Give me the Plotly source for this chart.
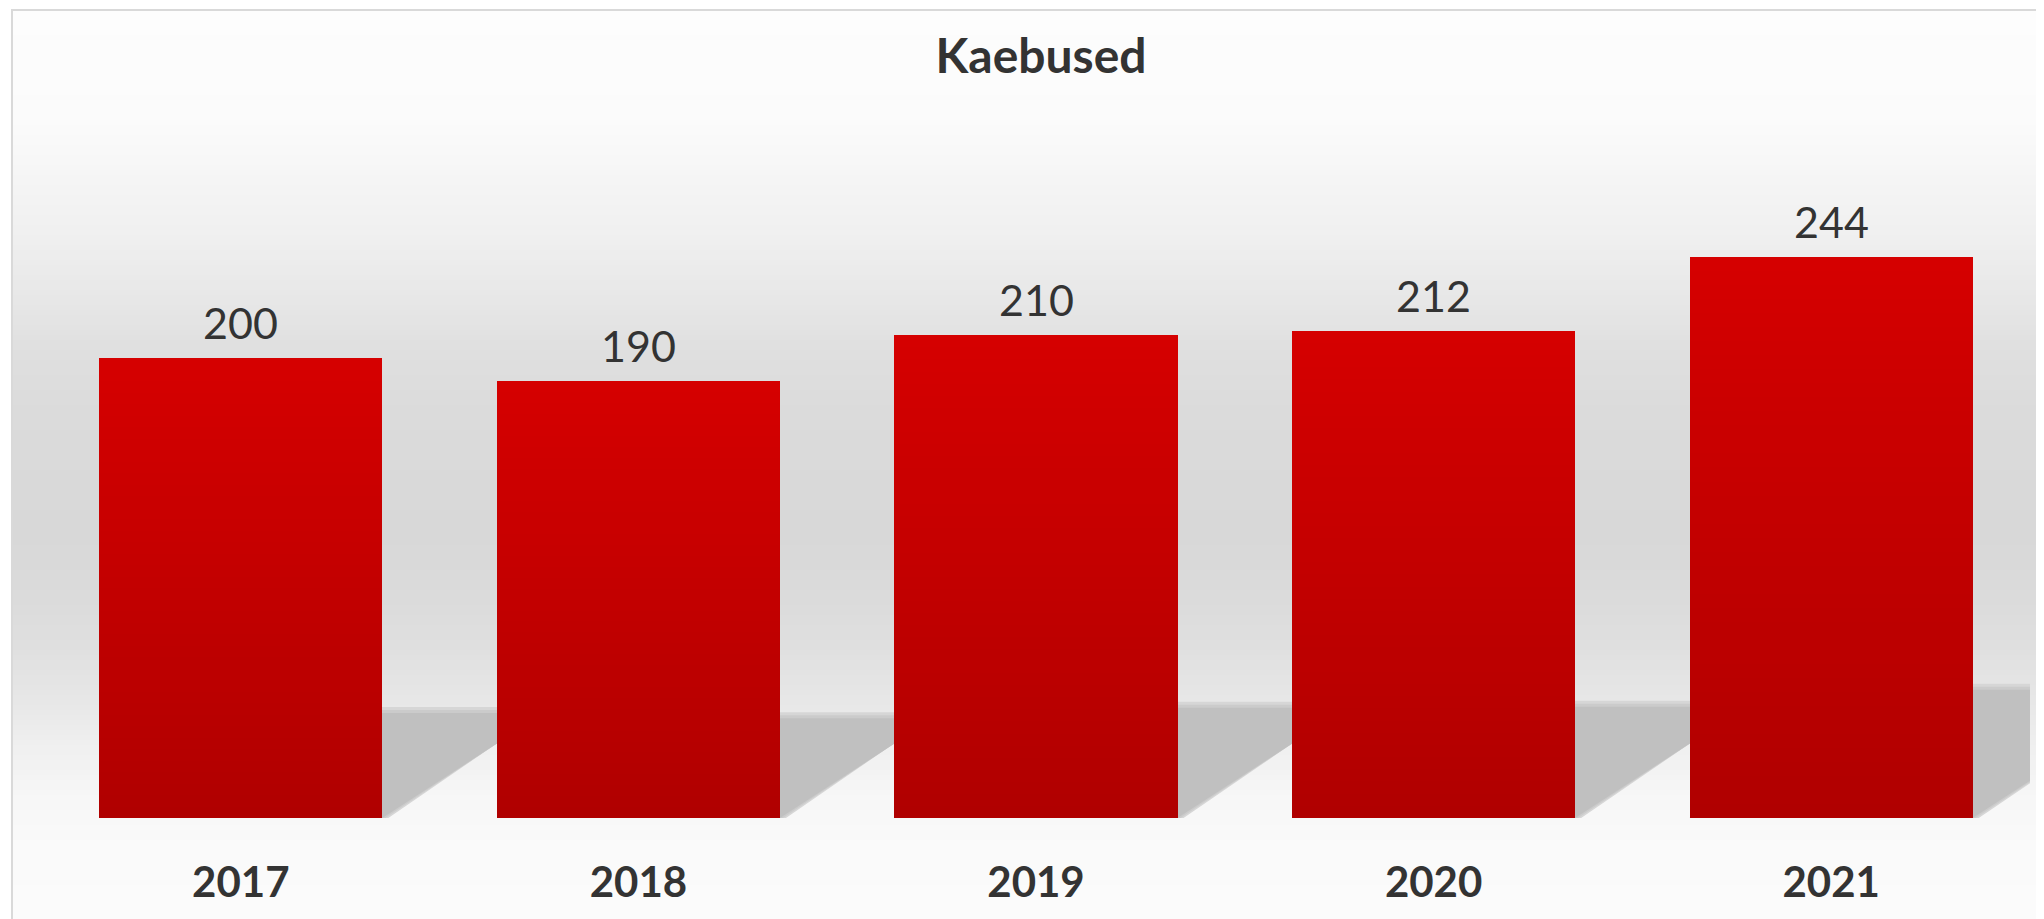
import plotly.graph_objects as go

YEARS = ["2017", "2018", "2019", "2020", "2021"]
VALUES = [200, 190, 210, 212, 244]
TITLE = "Kaebused"

WIN_W, WIN_H = 2044, 919
OFF = 8  # page body margin
W, H = WIN_W - OFF, WIN_H - OFF
# plot area in window pixels: x 42..2030, y 60..818
ML, MR, MT, MB = 42 - OFF, WIN_W - 2030, 60 - OFF, WIN_H - 818
PX_PER_UNIT = 2.2985
BAR_W = 0.712

# vertical background gradient (y in window px, grey level)
BG_STOPS = [(10, 253), (120, 251), (180, 245), (240, 239), (293, 232), (352, 223),
            (410, 219), (528, 216), (586, 218), (645, 223), (700, 231), (750, 240),
            (800, 247), (850, 250), (919, 251)]

plot_w = W - ML - MR
plot_h = H - MT - MB


def px_x(px):
    return (px - OFF - ML) / plot_w


def px_y(py):
    return (OFF + H - MB - py) / plot_h


def grey_at(py):
    for (y0, g0), (y1, g1) in zip(BG_STOPS, BG_STOPS[1:]):
        if y0 <= py <= y1:
            return g0 + (g1 - g0) * (py - y0) / (y1 - y0)
    return BG_STOPS[-1][1]


shapes = []
step = 5
y = 10
while y < WIN_H:
    g = round(grey_at(y + step / 2))
    shapes.append(dict(type="rect", xref="paper", yref="paper", layer="below",
                       x0=px_x(12), x1=px_x(WIN_W + 20), y0=px_y(min(y + step + 1, WIN_H + 5)),
                       y1=px_y(y), fillcolor=f"rgb({g},{g},{g})", line_width=0))
    y += step

# cast shadows behind the bars
for i, v in enumerate(VALUES):
    hs = 0.2285 * v
    dx = hs * PX_PER_UNIT / 0.65 / (plot_w / 5)
    for grow, col in [(6, "#d6d6d6"), (3, "#cbcbcb"), (0, "#c0c0c0")]:
        gx = grow / (plot_w / 5)
        gy = grow / PX_PER_UNIT
        xl, xr = i - BAR_W / 2, i + BAR_W / 2
        path = (f"M {xl},0 L {xr + gx},0 L {xr + dx + gx},{hs + gy} "
                f"L {xl + dx},{hs + gy} Z")
        shapes.append(dict(type="path", xref="x", yref="y", layer="below", path=path,
                           fillcolor=col, line_width=0))

# frame
shapes.append(dict(type="rect", xref="paper", yref="paper", layer="above",
                   x0=px_x(12), x1=px_x(WIN_W + 20), y0=px_y(WIN_H + 20), y1=px_y(10),
                   fillcolor="rgba(0,0,0,0)", line=dict(color="#d9d9d9", width=2)))

# bars as stacked slices to get a top-to-bottom gradient
N = 40
xs, bases, hs_, cols = [], [], [], []
for i, v in enumerate(VALUES):
    for k in range(N):
        f = (k + 0.5) / N
        r = round(176 + (213 - 176) * f)
        xs.append(i)
        bases.append(v * k / N)
        hs_.append(v / N)
        cols.append(f"rgb({r},0,0)")

fig = go.Figure()
fig.add_trace(go.Bar(x=xs, y=hs_, base=bases, width=BAR_W,
                     marker=dict(color=cols, line=dict(width=0)),
                     hoverinfo="skip", showlegend=False))

annotations = [dict(x=i, y=v, xref="x", yref="y", text=str(v), showarrow=False,
                    yanchor="bottom", yshift=8,
                    font=dict(family="Lato", size=43, color="#333333"))
               for i, v in enumerate(VALUES)]

fig.update_layout(
    width=W, height=H,
    margin=dict(l=ML, r=MR, t=MT, b=MB),
    paper_bgcolor="white",
    plot_bgcolor="rgba(0,0,0,0)",
    title=dict(text=TITLE, x=(1041 - OFF) / W, xanchor="center", y=1 - (56 - OFF) / H,
               yanchor="middle", yref="container",
               font=dict(family="Lato", size=48, weight="bold", color="#333333")),
    shapes=shapes,
    annotations=annotations,
    bargap=0,
    xaxis=dict(range=[-0.5, 4.5], tickvals=list(range(len(YEARS))), ticktext=YEARS,
               showgrid=False, zeroline=False, showline=False, ticks="",
               ticklabelstandoff=36,
               tickfont=dict(family="Lato", size=42, weight="bold", color="#333333")),
    yaxis=dict(range=[0, plot_h / PX_PER_UNIT], showgrid=False, zeroline=False,
               showline=False, showticklabels=False, ticks=""),
)

fig.write_html("out.html")
